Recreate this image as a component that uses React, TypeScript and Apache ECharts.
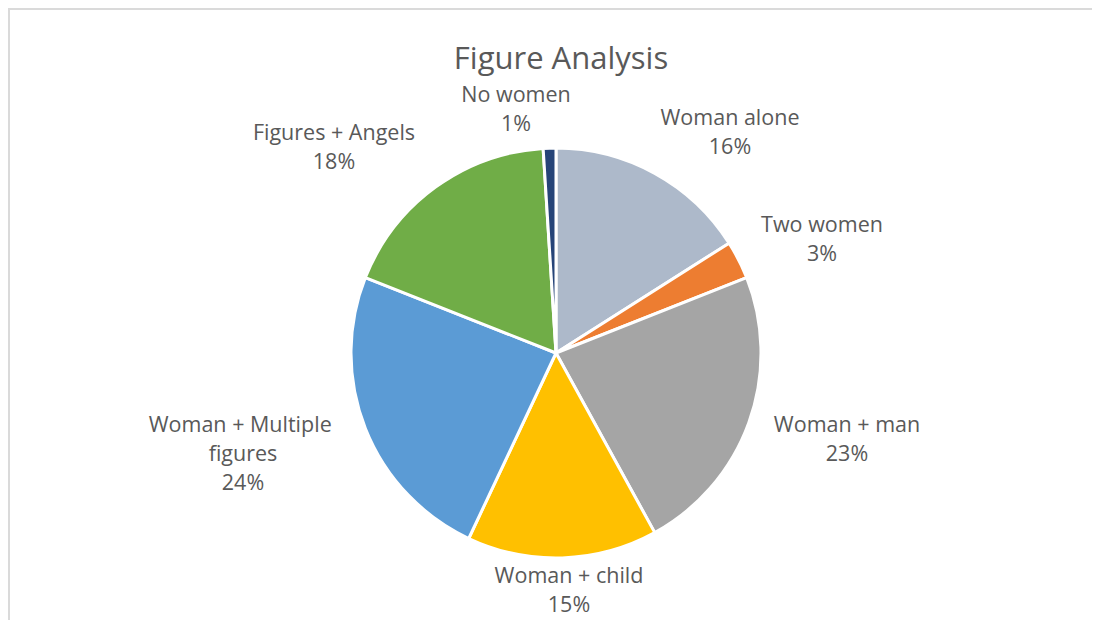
import React, { useEffect, useRef } from "react";
import * as echarts from "echarts";

const title = "Figure Analysis";
const categories = [
  "Woman alone",
  "Two women",
  "Woman + man",
  "Woman + child",
  "Woman + Multiple figures",
  "Figures + Angels",
  "No women",
];
const values = [16, 3, 23, 15, 24, 18, 1];
const colors = ["#ADB9CA", "#ED7D31", "#A5A5A5", "#FFC000", "#5B9BD5", "#70AD47", "#264478"];
// label block centre offsets from the pie centre (Excel "best fit" placement)
const labelOffsets: [number, number][] = [
  [174, -222],
  [266, -115],
  [291, 85],
  [13, 236],
  [-313, 99],
  [-222, -207],
  [-40, -245],
];

const CX = 546;
const CY = 343;

export default function App() {
  const ref = useRef<HTMLDivElement>(null);
  useEffect(() => {
    if (!ref.current) return;
    document.documentElement.style.overflow = "hidden";
    const chart = echarts.init(ref.current, undefined, { renderer: "svg" });
    chart.setOption({
      animation: false,
      backgroundColor: "#ffffff",
      title: {
        text: title,
        left: CX,
        top: 26,
        textAlign: "center",
        textStyle: {
          fontFamily: "Open Sans",
          fontSize: 31,
          fontWeight: "normal",
          color: "#595959",
        },
      },
      series: [
        {
          type: "pie",
          center: [CX, CY],
          radius: 205,
          startAngle: 90,
          clockwise: true,
          data: categories.map((c, i) => ({
            name: c,
            value: values[i],
            itemStyle: { color: colors[i] },
          })),
          itemStyle: { borderColor: "#ffffff", borderWidth: 3 },
          label: {
            show: true,
            position: "outside",
            formatter: (p: any) => `${p.name}\n${Math.round(p.percent)}%`,
            fontFamily: "Open Sans",
            fontSize: 21.5,
            lineHeight: 29,
            color: "#595959",
            align: "center",
            width: 230,
            overflow: "break",
          },
          labelLine: { show: false },
          labelLayout: (p: any) => {
            const o = labelOffsets[p.dataIndex];
            return {
              x: CX + o[0],
              y: CY + o[1],
              align: "center",
              verticalAlign: "middle",
            };
          },
          emphasis: { disabled: true },
        },
      ],
    });
    return () => chart.dispose();
  }, []);
  return (
    <div
      style={{
        width: 1090,
        height: 620,
        borderTop: "2px solid #dadada",
        borderLeft: "2px solid #dadada",
        boxSizing: "content-box",
      }}
    >
      <div ref={ref} style={{ width: 1090, height: 620 }} />
    </div>
  );
}
